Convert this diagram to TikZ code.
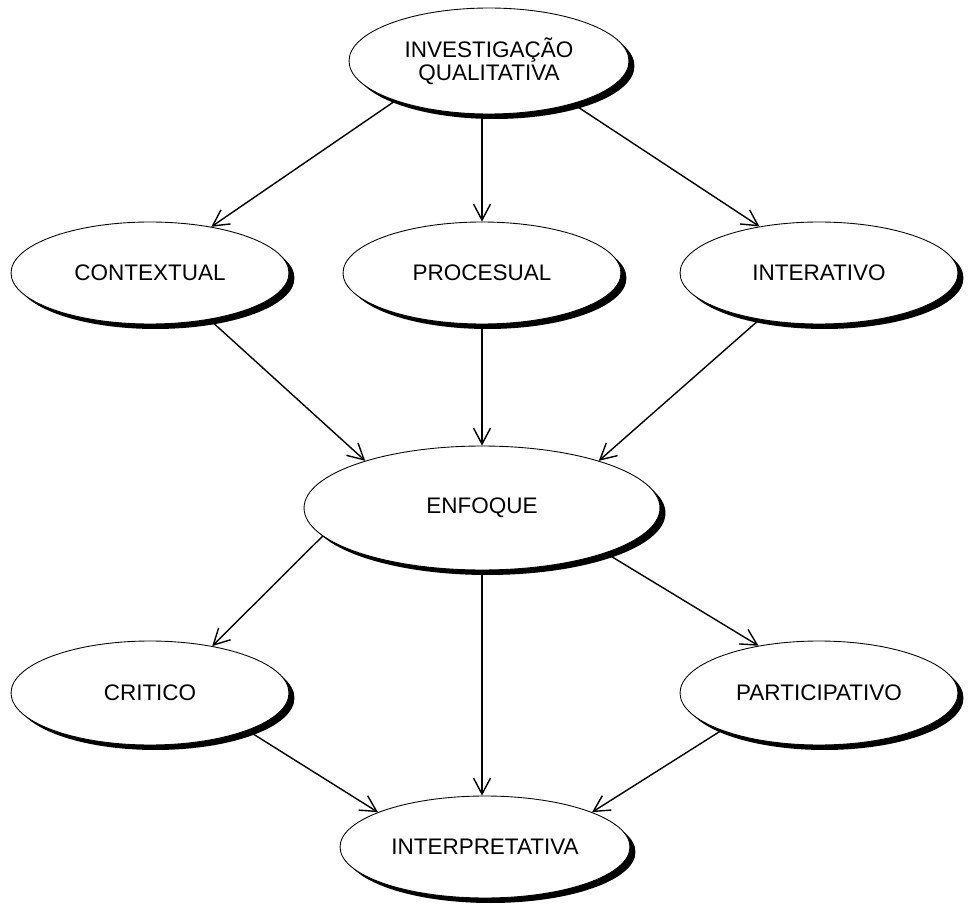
\documentclass[tikz,border=0pt]{standalone}
\usepackage{fontspec}
\setmainfont{Liberation Sans}
\usetikzlibrary{arrows.meta,shapes.geometric,shadows}

\begin{document}
\begin{tikzpicture}[x=0.02cm, y=-0.02cm,
    ovalo/.style={draw=black, line width=0.5pt, fill=white, ellipse, inner sep=0pt,
      minimum width=5.56cm, minimum height=2.04cm, align=center,
      font=\fontsize{12.8}{13.2}\selectfont,
      drop shadow={shadow xshift=0.11cm, shadow yshift=-0.1cm, fill=black, opacity=1}},
    flecha/.style={-{Straight Barb[length=0.32cm, width=0.34cm, line width=0.8pt]}, line width=0.8pt}]
  \useasboundingbox (0,0) rectangle (968,909);
  % nodos
  \node[ovalo, minimum width=5.6cm, minimum height=2.12cm] (inv) at (489,61) {INVESTIGAÇÃO\\QUALITATIVA};
  \node[ovalo] (ctx) at (150,273) {CONTEXTUAL};
  \node[ovalo] (proc) at (482,273) {PROCESUAL};
  \node[ovalo] (inter) at (819,273) {INTERATIVO};
  \node[ovalo, minimum width=7.12cm, minimum height=2.48cm] (enf) at (482,508) {ENFOQUE};
  \node[ovalo, minimum height=2.08cm] (crit) at (150,693) {CRITICO};
  \node[ovalo, minimum height=2.08cm] (part) at (819,693) {PARTICIPATIVO};
  \node[ovalo, minimum width=5.8cm] (interp) at (485,847) {INTERPRETATIVA};
  % flechas
  \draw[flecha] (inv.203) -- (ctx.37);
  \draw[flecha] (inv.south -| proc.north) -- (proc.north);
  \draw[flecha] (inv.333) -- (inter.142);
  \draw[flecha] (ctx.-38) -- (enf.158);
  \draw[flecha] (proc.south) -- (proc.south |- enf.north);
  \draw[flecha] (inter.218) -- (enf.22);
  \draw[flecha] (enf.190) -- (crit.37);
  \draw[flecha] (enf.south) -- (enf.south |- interp.north);
  \draw[flecha] (enf.340) -- (part.142);
  \draw[flecha] (crit.-21) -- (interp.162);
  \draw[flecha] (part.201) -- (interp.18);
\end{tikzpicture}
\end{document}
